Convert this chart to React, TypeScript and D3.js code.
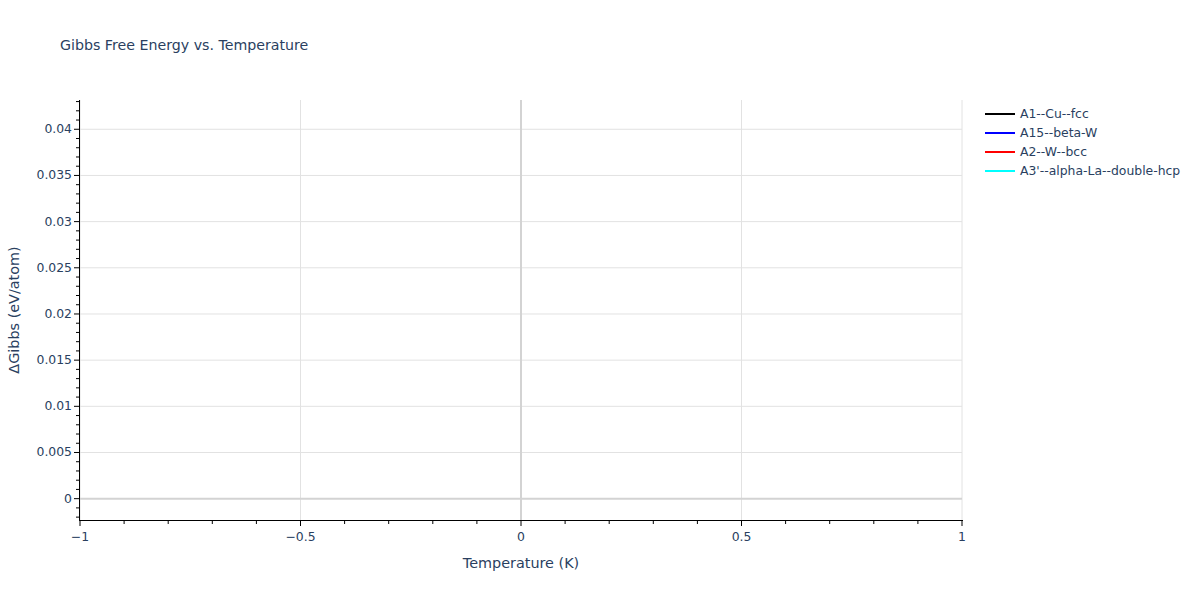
import React from "react";
import * as d3 from "d3";

const seriesNames = ["A1--Cu--fcc", "A15--beta-W", "A2--W--bcc", "A3'--alpha-La--double-hcp"];
const seriesColors = ["black", "blue", "red", "cyan"];
const temperatures: number[] = [0];
const gibbsA1: number[] = [0];
const gibbsA15: number[] = [0];
const gibbsA2: number[] = [0];
const gibbsA3p: number[] = [0];
const xTickValues = [-1, -0.5, 0, 0.5, 1];
const xTickLabels = ["\u22121", "\u22120.5", "0", "0.5", "1"];
const yTickValues = [0, 0.005, 0.01, 0.015, 0.02, 0.025, 0.03, 0.035, 0.04];
const yTickLabels = ["0", "0.005", "0.01", "0.015", "0.02", "0.025", "0.03", "0.035", "0.04"];
const xDomain: [number, number] = [-1, 1];
const yDomain: [number, number] = [-0.00231, 0.04317];

const W = 1200;
const H = 600;
const M = { left: 80, right: 238, top: 100, bottom: 80 };
const FONT = '"DejaVu Sans", Verdana, sans-serif';
const TXT = "#2a3f5f";

export default function App() {
  const x = d3.scaleLinear().domain(xDomain).range([M.left, W - M.right]);
  const y = d3.scaleLinear().domain(yDomain).range([H - M.bottom, M.top]);
  const x0 = M.left, x1 = W - M.right, y0 = H - M.bottom, y1 = M.top;

  const seriesVals = [gibbsA1, gibbsA15, gibbsA2, gibbsA3p];
  const line = d3.line<number>().x((_, i) => x(temperatures[i])).y((d) => y(d));

  const xMinor = d3.range(-10, 11).map((i) => i / 10).filter((v) => Math.abs(v * 2 - Math.round(v * 2)) > 1e-9);
  const yMinor = d3.range(-2, 44).map((i) => i / 1000).filter((v) => v >= yDomain[0] && v <= yDomain[1] && Math.abs(v * 200 - Math.round(v * 200)) > 1e-9);

  return (
    <svg width={W} height={H} style={{ display: "block", position: "absolute", left: 0, top: 0, background: "white" }}>
      <text x={60} y={50} fontFamily={FONT} fontSize={14.2} fill={TXT}>Gibbs Free Energy vs. Temperature</text>
      {/* grid */}
      {xTickValues.filter((v) => v !== 0).map((v) => (
        <line key={"gx" + v} x1={x(v)} x2={x(v)} y1={y1} y2={y0} stroke="#e2e2e2" strokeWidth={1} />
      ))}
      {yTickValues.filter((v) => v !== 0).map((v) => (
        <line key={"gy" + v} x1={x0} x2={x1} y1={y(v)} y2={y(v)} stroke="#e2e2e2" strokeWidth={1} />
      ))}
      {/* zero lines */}
      <line x1={x(0)} x2={x(0)} y1={y1} y2={y0} stroke="#d3d3d3" strokeWidth={2} />
      <line x1={x0} x2={x1} y1={y(0)} y2={y(0)} stroke="#d3d3d3" strokeWidth={2} />
      {/* series */}
      {seriesVals.map((vals, i) => (
        <path key={"s" + i} d={line(vals) || ""} fill="none" stroke={seriesColors[i]} strokeWidth={2} />
      ))}
      {/* axes lines */}
      <line x1={x0 - 0.5} x2={x0 - 0.5} y1={y1} y2={y0 + 1} stroke="black" strokeWidth={1} />
      <line x1={x0 - 1} x2={x1 + 1} y1={y0 + 0.5} y2={y0 + 0.5} stroke="black" strokeWidth={1} />
      {/* x ticks */}
      {xTickValues.map((v, i) => (
        <g key={"xt" + v}>
          <line x1={x(v)} x2={x(v)} y1={y0} y2={y0 + 6} stroke="black" strokeWidth={1} />
          <text x={x(v)} y={y0 + 21} textAnchor="middle" fontFamily={FONT} fontSize={12.4} fill={TXT}>{xTickLabels[i]}</text>
        </g>
      ))}
      {xMinor.map((v) => (
        <line key={"xm" + v} x1={x(v)} x2={x(v)} y1={y0} y2={y0 + 4} stroke="black" strokeWidth={1} />
      ))}
      {/* y ticks */}
      {yTickValues.map((v, i) => (
        <g key={"yt" + v}>
          <line x1={x0 - 6} x2={x0} y1={y(v)} y2={y(v)} stroke="black" strokeWidth={1} />
          <text x={x0 - 8} y={y(v) + 4} textAnchor="end" fontFamily={FONT} fontSize={12.4} fill={TXT}>{yTickLabels[i]}</text>
        </g>
      ))}
      {yMinor.map((v) => (
        <line key={"ym" + v} x1={x0 - 4} x2={x0} y1={y(v)} y2={y(v)} stroke="black" strokeWidth={1} />
      ))}
      {/* axis titles */}
      <text x={(x0 + x1) / 2} y={568} textAnchor="middle" fontFamily={FONT} fontSize={14.4} fill={TXT}>Temperature (K)</text>
      <text transform={`translate(19, ${(y0 + y1) / 2}) rotate(-90)`} textAnchor="middle" fontFamily={FONT} fontSize={14.4} fill={TXT}>ΔGibbs (eV/atom)</text>
      {/* legend */}
      {seriesNames.map((n, i) => (
        <g key={"lg" + i} transform={`translate(985, ${114 + i * 19})`}>
          <line x1={0} x2={30} y1={0} y2={0} stroke={seriesColors[i]} strokeWidth={2} />
          <text x={35} y={4} fontFamily={FONT} fontSize={12.4} fill={TXT}>{n}</text>
        </g>
      ))}
    </svg>
  );
}
